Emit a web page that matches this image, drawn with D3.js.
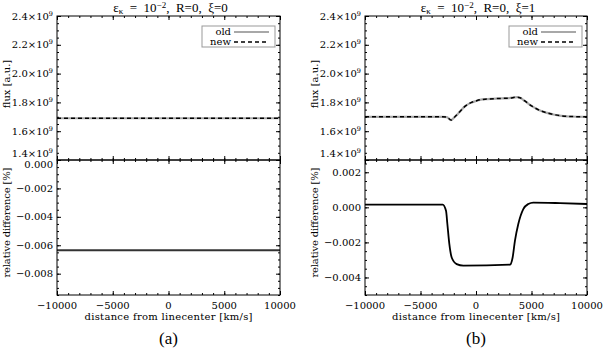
<!DOCTYPE html>
<html>
<head>
<meta charset="utf-8">
<script src="https://cdn.jsdelivr.net/npm/d3@7/dist/d3.min.js"></script>
<style>
  body { margin: 0; background: #fff; }
  text { fill: #000; }
</style>
</head>
<body>
<svg id="chart" width="603" height="355"></svg>
<script>
// ---- data ----
const xDomain = [-10000, 10000];
const xTicks = [-10000, -5000, 0, 5000, 10000];

const fluxDomain = [1.4e9, 2.4e9];
const fluxTicks = [1.4e9, 1.6e9, 1.8e9, 2.0e9, 2.2e9, 2.4e9];

const legendLabels = ['old', 'new'];
const panelLetters = ['(a)', '(b)'];
const panelXi = ['0', '1'];

// panel (a): xi = 0
const aFluxX = [-10000, 10000];
const aFluxOld = [1.69e9, 1.69e9];
const aFluxNew = [1.69e9, 1.69e9];
const aDiffX = [-10000, 10000];
const aDiff = [-0.00635, -0.00635];
const aDiffDomain = [-0.0095, 0];
const aDiffTicks = [0, -0.002, -0.004, -0.006, -0.008];

// panel (b): xi = 1
const bFluxX = [-10000, -3000, -2640, -2250, -1900, -1440, -1000, -540, 0, 360, 1000, 1865,
                3000, 3700, 3960, 4400, 4865, 5300, 5770, 6400, 6970, 7700, 8470, 10000];
const bFluxOld = [1.700e9, 1.700e9, 1.698e9, 1.677e9, 1.700e9, 1.737e9, 1.772e9, 1.795e9,
                  1.810e9, 1.818e9, 1.823e9, 1.827e9, 1.830e9, 1.836e9, 1.832e9, 1.810e9,
                  1.783e9, 1.762e9, 1.743e9, 1.727e9, 1.716e9, 1.707e9, 1.702e9, 1.700e9];
const bFluxNew = bFluxOld; // the two curves coincide at this scale
const bDiffX = [-10000, -3000, -2700, -2580, -2400, -2190, -1740, -1140, 3060, 3300, 3510,
                3810, 4260, 4710, 5160, 7570, 10000];
const bDiff = [0.00015, 0.00016, -0.0002, -0.00095, -0.0021, -0.00286, -0.00324, -0.00333,
               -0.00327, -0.00286, -0.0019, -0.00095, -0.0001, 0.00019, 0.00027, 0.00024, 0.00019];
const bDiffDomain = [-0.005, 0.0027];
const bDiffTicks = [0.002, 0, -0.002, -0.004];

// ---- layout ----
const svg = d3.select('#chart');
svg.append('rect').attr('width', 603).attr('height', 355).attr('fill', '#fff');

const tickFont = 'DejaVu Serif';
const fs = 10;
const yTop = 16, yMid = 160, yBottom = 295;
const majorLen = 4;

const panels = [
  { left: 57, right: 280, fluxX: aFluxX, fluxOld: aFluxOld, fluxNew: aFluxNew,
    diffX: aDiffX, diff: aDiff, diffDomain: aDiffDomain, diffTicks: aDiffTicks,
    letter: panelLetters[0], xi: panelXi[0], diffColor: '#333' },
  { left: 365, right: 587, fluxX: bFluxX, fluxOld: bFluxOld, fluxNew: bFluxNew,
    diffX: bDiffX, diff: bDiff, diffDomain: bDiffDomain, diffTicks: bDiffTicks,
    letter: panelLetters[1], xi: panelXi[1], diffColor: '#000' }
];

function minorValues(domain, step) {
  const lo = Math.min(...domain), hi = Math.max(...domain);
  return d3.range(Math.ceil(lo / step - 1e-9) * step, hi + step * 1e-6, step);
}

// draws ticks (major + minor) of one axis, no labels
function tickAxis(g, axisFn, scale, majors, minors, len) {
  g.append('g').call(axisFn(scale).tickValues(minors).tickSize(-len / 2).tickFormat(''))
    .call(s => s.select('.domain').remove());
  g.append('g').call(axisFn(scale).tickValues(majors).tickSize(-len).tickFormat(''))
    .call(s => s.select('.domain').remove());
  g.selectAll('line').attr('stroke', '#000').attr('stroke-width', 1);
}

function frame(g, x, y0, y1, y, yMajors, yMinor) {
  const xMinor = minorValues(xDomain, 1000);
  const yMinors = minorValues(y.domain(), yMinor);
  tickAxis(g.append('g').attr('transform', `translate(0,${y1})`), d3.axisBottom, x, xTicks, xMinor, majorLen);
  tickAxis(g.append('g').attr('transform', `translate(0,${y0})`), d3.axisTop, x, xTicks, xMinor, majorLen);
  tickAxis(g.append('g').attr('transform', `translate(${x.range()[0]},0)`), d3.axisLeft, y, yMajors, yMinors, majorLen);
  tickAxis(g.append('g').attr('transform', `translate(${x.range()[1]},0)`), d3.axisRight, y, yMajors, yMinors, majorLen);
  g.append('rect')
    .attr('x', x.range()[0]).attr('y', y0)
    .attr('width', x.range()[1] - x.range()[0]).attr('height', y1 - y0)
    .attr('fill', 'none').attr('stroke', '#000').attr('stroke-width', 1);
}

panels.forEach(p => {
  const g = svg.append('g');
  const x = d3.scaleLinear().domain(xDomain).range([p.left, p.right]);
  const yF = d3.scaleLinear().domain(fluxDomain).range([yMid, yTop]);
  const yD = d3.scaleLinear().domain(p.diffDomain).range([yBottom, yMid]);

  const clipId = 'clip' + p.left;
  g.append('clipPath').attr('id', clipId).append('rect')
    .attr('x', p.left).attr('y', yTop).attr('width', p.right - p.left).attr('height', yBottom - yTop);
  const plot = g.append('g').attr('clip-path', `url(#${clipId})`);

  // flux: old (grey solid) and new (black dashed)
  const fluxLine = vals => d3.line().curve(d3.curveMonotoneX)
    .x((d, i) => x(p.fluxX[i])).y(d => yF(d))(vals);
  plot.append('path').attr('d', fluxLine(p.fluxOld))
    .attr('fill', 'none').attr('stroke', '#a8a8a8').attr('stroke-width', 2.2);
  plot.append('path').attr('d', fluxLine(p.fluxNew))
    .attr('fill', 'none').attr('stroke', '#000').attr('stroke-width', 1.5)
    .attr('stroke-dasharray', '4,3');

  // relative difference
  const diffLine = d3.line().curve(d3.curveMonotoneX)
    .x((d, i) => x(p.diffX[i])).y(d => yD(d));
  plot.append('path').attr('d', diffLine(p.diff))
    .attr('fill', 'none').attr('stroke', p.diffColor).attr('stroke-width', 1.8);

  // frames and ticks
  frame(g, x, yTop, yMid, yF, fluxTicks, 0.05e9);
  frame(g, x, yMid, yBottom, yD, p.diffTicks, 0.0005);

  // x tick labels
  g.append('g').selectAll('text').data(xTicks).join('text')
    .attr('x', d => x(d)).attr('y', yBottom + 14)
    .attr('text-anchor', 'middle').attr('font-family', tickFont).attr('font-size', fs)
    .text(d => d < 0 ? '\u2212' + Math.abs(d) : String(d));
  g.append('text')
    .attr('x', (p.left + p.right) / 2).attr('y', yBottom + 25)
    .attr('text-anchor', 'middle').attr('font-family', tickFont).attr('font-size', fs)
    .attr('textLength', 168).attr('lengthAdjust', 'spacing')
    .text('distance from linecenter [km/s]');

  // flux tick labels: m.m×10^9 (the bottom one sits just above the split)
  const fl = g.append('g').selectAll('text').data(fluxTicks).join('text')
    .attr('x', p.left - 4)
    .attr('y', d => d === fluxDomain[0] ? yF(d) - 3 : yF(d) + 3.5)
    .attr('text-anchor', 'end').attr('font-family', tickFont).attr('font-size', fs);
  fl.append('tspan').text(d => (d / 1e9).toFixed(1) + '\u00d710');
  fl.append('tspan').attr('dy', -4).attr('font-size', 6.5).text('9');

  // diff tick labels
  g.append('g').selectAll('text').data(p.diffTicks).join('text')
    .attr('x', p.left - 4)
    .attr('y', d => yD(d) + (d === p.diffDomain[1] ? 7.5 : 3.5))
    .attr('text-anchor', 'end').attr('font-family', tickFont).attr('font-size', fs)
    .text(d => (d < 0 ? '\u2212' : '') + Math.abs(d).toFixed(3));

  // y titles
  g.append('text')
    .attr('transform', `translate(${p.left - 47},${(yTop + yMid) / 2 - 4}) rotate(-90)`)
    .attr('text-anchor', 'middle').attr('font-family', tickFont).attr('font-size', fs)
    .text('flux [a.u.]');
  g.append('text')
    .attr('transform', `translate(${p.left - 47},${(yMid + yBottom) / 2 - 5}) rotate(-90)`)
    .attr('text-anchor', 'middle').attr('font-family', tickFont).attr('font-size', fs)
    .attr('textLength', 110).attr('lengthAdjust', 'spacing')
    .text('relative difference [%]');

  // legend
  const lg = g.append('g').attr('transform', `translate(${p.right - 78},26)`);
  lg.append('rect').attr('width', 73).attr('height', 21)
    .attr('fill', '#fff').attr('stroke', '#999').attr('stroke-width', 1);
  lg.selectAll('text').data(legendLabels).join('text')
    .attr('x', 29).attr('y', (d, i) => 9 + i * 10)
    .attr('text-anchor', 'end').attr('font-family', tickFont).attr('font-size', fs)
    .text(d => d);
  lg.append('line').attr('x1', 32).attr('x2', 67).attr('y1', 6).attr('y2', 6)
    .attr('stroke', '#a8a8a8').attr('stroke-width', 2);
  lg.append('line').attr('x1', 32).attr('x2', 67).attr('y1', 16).attr('y2', 16)
    .attr('stroke', '#000').attr('stroke-width', 1.5).attr('stroke-dasharray', '4,3');

  // title
  const t = g.append('text')
    .attr('x', (p.left + p.right) / 2 + 2).attr('y', 12)
    .attr('text-anchor', 'middle').attr('font-family', 'Liberation Serif').attr('font-size', 13)
    .style('white-space', 'pre');
  t.append('tspan').text('\u03b5');
  t.append('tspan').attr('dy', 2).attr('font-size', 9).text('\u03ba');
  t.append('tspan').attr('dy', -2).text('  =  10');
  t.append('tspan').attr('dy', -4).attr('font-size', 9).text('\u22122');
  t.append('tspan').attr('dy', 4).text(',  R=0,  \u03be=' + p.xi);

  // panel letter
  g.append('text')
    .attr('x', (p.left + p.right) / 2).attr('y', 344)
    .attr('text-anchor', 'middle').attr('font-family', 'Liberation Serif').attr('font-size', 17)
    .text(p.letter);
});
</script>
</body>
</html>
